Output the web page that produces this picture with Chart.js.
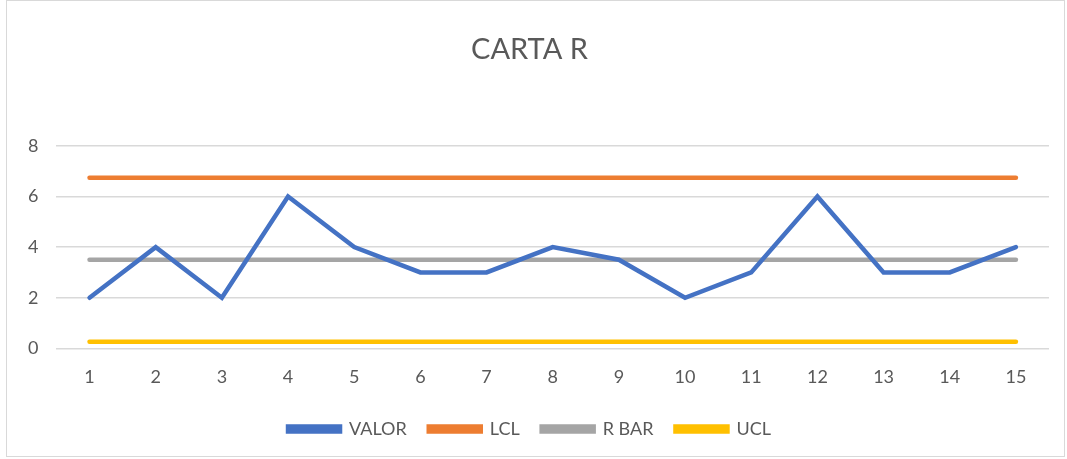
<!DOCTYPE html>
<html>
<head>
<meta charset="utf-8">
<script src="https://cdn.jsdelivr.net/npm/chart.js@4"></script>
<style>
  html, body { margin: 0; padding: 0; background: #fff; }
  #frame {
    position: absolute; left: 6px; top: 0; width: 1059px; height: 457px;
    border: 1px solid #d9d9d9; box-sizing: border-box;
  }
  #wrap { position: absolute; left: 0; top: 0; width: 1067px; height: 459px; }
</style>
</head>
<body>
<div id="frame"></div>
<div id="wrap"><canvas id="rChart"></canvas></div>
<script>
// Chart data
const categories = ['1','2','3','4','5','6','7','8','9','10','11','12','13','14','15'];
const valor = [2, 4, 2, 6, 4, 3, 3, 4, 3.5, 2, 3, 6, 3, 3, 4];
const lcl = Array(15).fill(6.734);
const rBar = Array(15).fill(3.5);
const ucl = Array(15).fill(0.266);
const yTicks = [0, 2, 4, 6, 8];

const textColor = '#595959';
Chart.defaults.font.family = 'Lato, "Open Sans", sans-serif';

function series(label, data, color) {
    return {
        label: label,
        data: data,
        borderColor: color,
        backgroundColor: color,
        borderWidth: 4.5,
        borderCapStyle: 'round',
        pointRadius: 0,
        tension: 0
    };
}

document.addEventListener('DOMContentLoaded', function() {
    const ctx = document.getElementById('rChart');
    new Chart(ctx, {
        type: 'line',
        data: {
            labels: categories,
            datasets: [
                series('VALOR', valor, '#4472c4'),
                series('LCL', lcl, '#ed7d31'),
                series('R BAR', rBar, '#a5a5a5'),
                series('UCL', ucl, '#ffc000')
            ]
        },
        options: {
            responsive: true,
            maintainAspectRatio: false,
            animation: false,
            layout: { padding: { left: 10, right: 18, top: 22, bottom: 11 } },
            plugins: {
                title: {
                    display: true,
                    text: 'CARTA R',
                    color: textColor,
                    font: { size: 29, weight: 'normal' },
                    padding: { top: 10, bottom: 79 }
                },
                legend: {
                    position: 'bottom',
                    labels: {
                        color: textColor,
                        font: { size: 18 },
                        boxWidth: 52,
                        boxHeight: 5,
                        padding: 22
                    }
                },
                tooltip: { enabled: false }
            },
            scales: {
                x: {
                    offset: true,
                    grid: { display: false },
                    border: { display: false },
                    ticks: { color: textColor, font: { size: 18 }, padding: 10 }
                },
                y: {
                    min: 0,
                    max: 8,
                    afterBuildTicks: function(axis) {
                        axis.ticks = yTicks.map(v => ({ value: v }));
                    },
                    grid: { color: '#d9d9d9', lineWidth: 1.5, drawTicks: false },
                    border: { display: false },
                    ticks: { color: textColor, font: { size: 18 }, padding: 18 }
                }
            }
        }
    });
});
</script>
</body>
</html>
